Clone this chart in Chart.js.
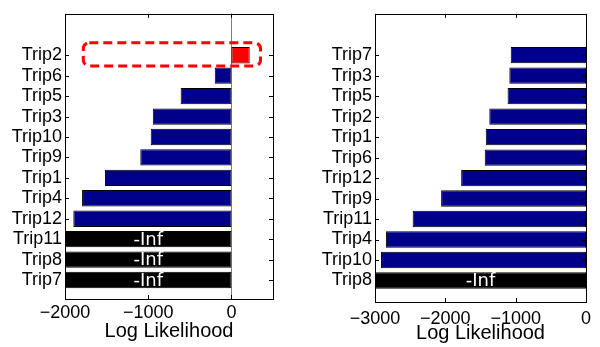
<!DOCTYPE html>
<html>
<head>
<meta charset="utf-8">
<script src="https://cdn.jsdelivr.net/npm/chart.js@4.4.1/dist/chart.umd.min.js"></script>
<style>
  body { margin: 0; background: #fff; }
  canvas { position: absolute; top: 0; }
  #left { left: 0; }
  #right { left: 300px; }
</style>
</head>
<body>
<canvas id="left" width="300" height="347"></canvas>
<canvas id="right" width="300" height="347"></canvas>
<script>
// trips listed from bottom to top, -Infinity where the model gave -Inf
var leftTrips = ['Trip7', 'Trip8', 'Trip11', 'Trip12', 'Trip4', 'Trip1', 'Trip9', 'Trip10', 'Trip3', 'Trip5', 'Trip6', 'Trip2'];
var leftLL = [-Infinity, -Infinity, -Infinity, -1900, -1795, -1520, -1095, -970, -945, -610, -200, 220];
var leftTicks = [-2000, -1000, 0];

var rightTrips = ['Trip8', 'Trip10', 'Trip4', 'Trip11', 'Trip9', 'Trip12', 'Trip6', 'Trip1', 'Trip2', 'Trip5', 'Trip3', 'Trip7'];
var rightLL = [-Infinity, -2915, -2845, -2465, -2060, -1775, -1440, -1425, -1375, -1115, -1090, -1070];
var rightTicks = [-3000, -2000, -1000, 0];

var NAVY = '#00008B';

function barColor(v) {
  if (v === -Infinity) return '#000000';
  if (v > 0) return '#ff0000';
  return NAVY;
}

var framePlugin = {
  id: 'frame',
  beforeDatasetsDraw: function (chart, args, opts) {
    if (!opts.zeroLine) return;
    var ctx = chart.ctx, a = chart.chartArea;
    var px = Math.round(chart.scales.x.getPixelForValue(0)) + 0.5;
    ctx.save();
    ctx.strokeStyle = '#808080';
    ctx.lineWidth = 1;
    ctx.beginPath();
    ctx.moveTo(px, a.top);
    ctx.lineTo(px, a.bottom);
    ctx.stroke();
    ctx.restore();
  },
  afterDatasetsDraw: function (chart, args, opts) {
    var ctx = chart.ctx, a = chart.chartArea;
    var xs = chart.scales.x, ys = chart.scales.y;
    var raw = opts.values;
    var bars = chart.getDatasetMeta(0).data;

    ctx.save();
    // -Inf labels
    ctx.fillStyle = '#fff';
    ctx.font = '18px "DejaVu Sans"';
    ctx.textAlign = 'center';
    ctx.textBaseline = 'middle';
    raw.forEach(function (v, i) {
      if (v !== -Infinity) return;
      var b = bars[i];
      ctx.fillText('-Inf', (b.x + b.base) / 2, b.y + 1);
    });

    // frame
    ctx.strokeStyle = '#000';
    ctx.lineWidth = 1;
    ctx.strokeRect(Math.round(a.left) + 0.5, Math.round(a.top) + 0.5,
      Math.round(a.right - a.left), Math.round(a.bottom - a.top));

    // inward ticks on all four sides
    var tl = 4;
    ctx.beginPath();
    ys.ticks.forEach(function (t) {
      var py = Math.round(ys.getPixelForValue(t.value)) + 0.5;
      ctx.moveTo(a.left, py); ctx.lineTo(a.left + tl, py);
      ctx.moveTo(a.right, py); ctx.lineTo(a.right - tl, py);
    });
    xs.ticks.forEach(function (t) {
      var px = Math.round(xs.getPixelForValue(t.value)) + 0.5;
      ctx.moveTo(px, a.top); ctx.lineTo(px, a.top + tl);
      ctx.moveTo(px, a.bottom); ctx.lineTo(px, a.bottom - tl);
    });
    ctx.stroke();

    // dashed highlight box
    var h = opts.highlight;
    if (h) {
      var x0 = xs.getPixelForValue(h.xMin), x1 = xs.getPixelForValue(h.xMax);
      var y0 = ys.getPixelForValue(h.yMax), y1 = ys.getPixelForValue(h.yMin);
      var r = 6;
      ctx.strokeStyle = '#ff0000';
      ctx.lineWidth = 3;
      ctx.setLineDash([9, 5]);
      ctx.beginPath();
      ctx.moveTo(x0 + r, y0);
      ctx.arcTo(x1, y0, x1, y1, r);
      ctx.arcTo(x1, y1, x0, y1, r);
      ctx.arcTo(x0, y1, x0, y0, r);
      ctx.arcTo(x0, y0, x1, y0, r);
      ctx.closePath();
      ctx.stroke();
    }
    ctx.restore();
  }
};

function makeChart(id, trips, values, ticks, o) {
  var xMin = ticks[0];
  var points = values.map(function (v, i) {
    return { x: v === -Infinity ? xMin : v, y: i };
  });
  var font = { family: '"Liberation Sans", Arial, sans-serif', size: 18 };
  return new Chart(document.getElementById(id), {
    type: 'bar',
    data: {
      datasets: [{
        data: points,
        backgroundColor: values.map(barColor),
        borderColor: '#000',
        borderWidth: 1,
        borderSkipped: false,
        barPercentage: 0.8,
        categoryPercentage: 1
      }]
    },
    plugins: [framePlugin],
    options: {
      indexAxis: 'y',
      responsive: false,
      animation: false,
      events: [],
      layout: { padding: { top: o.top, right: o.right, left: 0, bottom: 0 } },
      plugins: {
        legend: { display: false },
        tooltip: { enabled: false },
        frame: { values: values, zeroLine: o.zeroLine, highlight: o.highlight }
      },
      scales: {
        x: {
          type: 'linear',
          min: xMin,
          max: o.xMax,
          grid: { display: false, drawTicks: false },
          border: { display: false },
          afterBuildTicks: function (s) { s.ticks = ticks.map(function (v) { return { value: v }; }); },
          afterFit: function (s) { s.height = o.xHeight; },
          ticks: {
            color: '#000',
            font: font,
            padding: o.xPad,
            maxRotation: 0,
            callback: function (v) { return v < 0 ? '\u2212' + Math.abs(v) : String(v); }
          },
          title: {
            display: true,
            text: 'Log Likelihood',
            color: '#000',
            font: { family: font.family, size: 20 },
            padding: { top: 0, bottom: o.titlePad }
          }
        },
        y: {
          type: 'linear',
          min: o.yMin,
          max: o.yMax,
          offset: false,
          grid: { display: false, offset: false, drawTicks: false },
          border: { display: false },
          afterBuildTicks: function (s) { s.ticks = trips.map(function (t, i) { return { value: i }; }); },
          afterFit: function (s) { s.width = o.yWidth; },
          ticks: {
            color: '#000',
            font: font,
            padding: 3,
            callback: function (v, i) { return trips[i]; }
          }
        }
      }
    }
  });
}

makeChart('left', leftTrips, leftLL, leftTicks, {
  xMax: 500, yMin: -0.93, yMax: 13.03,
  top: 9, right: 27, yWidth: 65, xHeight: 48, xPad: 3, titlePad: 4,
  zeroLine: true,
  highlight: { xMin: -1780, xMax: 350, yMin: 10.48, yMax: 11.61 }
});

makeChart('right', rightTrips, rightLL, rightTicks, {
  xMax: 0, yMin: -1.05, yMax: 13.02,
  top: 7, right: 14, yWidth: 75, xHeight: 45, xPad: 6, titlePad: 2,
  zeroLine: false, highlight: null
});
</script>
</body>
</html>
